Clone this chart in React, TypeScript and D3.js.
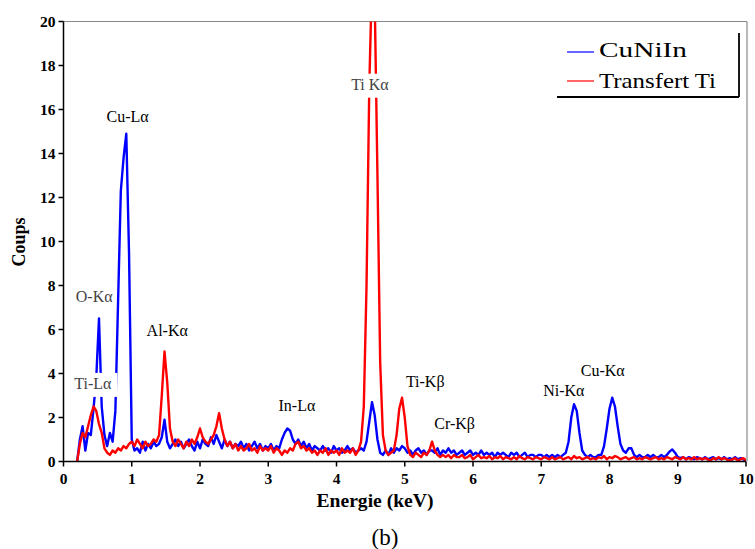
import React from "react";
import * as d3 from "d3";

// Energy grid: starts at 0.20 keV, step 0.04 keV
const E_START = 0.2;
const E_STEP = 0.04;

// CuNiIn counts (one row = 10 points = 0.4 keV)
const cuNiIn: number[] = [
  0.0, 1.0, 1.6, 0.5, 1.3, 1.2, 2.4, 3.8, 6.5, 2.5,
  1.2, 0.7, 1.3, 0.9, 2.3, 7.3, 12.3, 13.8, 14.9, 9.5,
  1.0, 0.5, 0.6, 0.4, 0.9, 0.5, 0.8, 0.6, 0.9, 0.7,
  0.8, 1.1, 1.9, 0.9, 0.6, 0.8, 1.0, 0.7, 0.9, 0.6,
  0.8, 1.0, 0.7, 0.5, 0.9, 0.6, 1.0, 0.8, 0.7, 1.1,
  0.8, 1.2, 0.9, 0.6, 1.0, 0.7, 0.9, 0.6, 0.8, 0.7,
  0.9, 0.6, 0.8, 0.5, 0.7, 0.9, 0.6, 0.8, 0.5, 0.7,
  0.6, 0.8, 0.5, 0.7, 0.6, 1.0, 1.3, 1.5, 1.4, 1.0,
  0.8, 1.0, 0.7, 0.9, 0.6, 0.8, 0.5, 0.7, 0.6, 0.5,
  0.7, 0.5, 0.6, 0.4, 0.7, 0.5, 0.6, 0.4, 0.5, 0.7,
  0.5, 0.6, 0.4, 0.5, 0.6, 0.5, 0.9, 1.8, 2.7, 2.1,
  1.0, 0.4, 0.3, 0.5, 0.3, 0.6, 0.4, 0.6, 0.5, 0.7,
  0.6, 0.4, 0.5, 0.3, 0.5, 0.6, 0.4, 0.5, 0.3, 0.5,
  0.5, 0.4, 0.6, 0.3, 0.5, 0.4, 0.6, 0.4, 0.5, 0.3,
  0.4, 0.5, 0.3, 0.4, 0.5, 0.3, 0.4, 0.3, 0.5, 0.3,
  0.4, 0.3, 0.4, 0.2, 0.4, 0.3, 0.4, 0.3, 0.2, 0.4,
  0.3, 0.4, 0.2, 0.3, 0.4, 0.2, 0.3, 0.3, 0.2, 0.3,
  0.3, 0.2, 0.3, 0.2, 0.3, 0.2, 0.3, 0.2, 0.3, 0.4,
  0.9, 2.0, 2.6, 2.3, 1.3, 0.5, 0.3, 0.2, 0.3, 0.2,
  0.2, 0.3, 0.3, 0.7, 1.5, 2.4, 2.9, 2.5, 1.6, 0.8,
  0.5, 0.4, 0.6, 0.6, 0.3, 0.2, 0.3, 0.2, 0.2, 0.3,
  0.2, 0.3, 0.2, 0.2, 0.3, 0.2, 0.3, 0.45, 0.55, 0.4,
  0.2, 0.15, 0.2, 0.1, 0.2, 0.15, 0.1, 0.2, 0.15, 0.1,
  0.2, 0.1, 0.15, 0.2, 0.1, 0.15, 0.1, 0.2, 0.1, 0.15,
  0.1, 0.2, 0.1, 0.15, 0.1, 0.05,
];

// Transfert Ti counts
const transfertTi: number[] = [
  0.0, 0.8, 1.3, 1.1, 1.6, 2.1, 2.5, 2.3, 1.7, 1.3,
  0.6, 0.4, 0.3, 0.5, 0.4, 0.6, 0.5, 0.7, 0.6, 0.8,
  0.9, 0.7, 1.0, 0.8, 0.6, 0.9, 0.7, 0.8, 1.0, 0.9,
  1.2, 3.0, 5.0, 3.6, 1.5, 0.9, 0.7, 1.0, 0.8, 0.6,
  0.9, 0.7, 1.0, 0.8, 1.1, 1.5, 1.1, 0.9, 0.8, 1.0,
  1.2, 1.6, 2.2, 1.5, 1.0, 0.7, 0.9, 0.6, 0.8, 0.5,
  0.7, 0.5, 0.6, 0.8, 0.5, 0.6, 0.4, 0.7, 0.5, 0.6,
  0.5, 0.7, 0.4, 0.6, 0.5, 0.3, 0.5, 0.4, 0.6, 0.5,
  0.8, 0.9, 0.6, 0.7, 0.5, 0.6, 0.4, 0.5, 0.3, 0.5,
  0.4, 0.6, 0.3, 0.5, 0.4, 0.5, 0.3, 0.6, 0.4, 0.5,
  0.4, 0.6, 0.3, 0.5, 0.9, 2.5, 8.0, 17, 22, 21,
  13, 4.5, 1.2, 0.5, 0.3, 0.4, 0.5, 1.2, 2.4, 2.9,
  2.0, 0.7, 0.3, 0.2, 0.4, 0.3, 0.2, 0.4, 0.3, 0.5,
  0.9, 0.5, 0.3, 0.2, 0.3, 0.2, 0.3, 0.15, 0.3, 0.2,
  0.2, 0.3, 0.15, 0.2, 0.3, 0.1, 0.2, 0.3, 0.15, 0.2,
  0.15, 0.25, 0.1, 0.2, 0.15, 0.25, 0.1, 0.2, 0.15, 0.1,
  0.2, 0.1, 0.25, 0.15, 0.1, 0.2, 0.15, 0.1, 0.2, 0.15,
  0.1, 0.2, 0.15, 0.1, 0.2, 0.1, 0.15, 0.2, 0.1, 0.15,
  0.2, 0.1, 0.25, 0.15, 0.2, 0.1, 0.15, 0.2, 0.1, 0.15,
  0.1, 0.2, 0.15, 0.25, 0.1, 0.2, 0.15, 0.25, 0.2, 0.1,
  0.15, 0.2, 0.1, 0.15, 0.2, 0.1, 0.15, 0.1, 0.2, 0.15,
  0.1, 0.15, 0.2, 0.1, 0.15, 0.1, 0.2, 0.15, 0.1, 0.2,
  0.15, 0.1, 0.2, 0.1, 0.15, 0.1, 0.2, 0.1, 0.15, 0.1,
  0.15, 0.1, 0.05, 0.15, 0.1, 0.2, 0.1, 0.15, 0.1, 0.05,
  0.1, 0.15, 0.05, 0.1, 0.15, 0.05,
];

const xTicks = [0, 1, 2, 3, 4, 5, 6, 7, 8, 9, 10];
const yTicks = [0, 2, 4, 6, 8, 10, 12, 14, 16, 18, 20];

const seriesNames = ["CuNiIn", "Transfert Ti"];
const seriesColors = ["#0000ff", "#ff0000"];

// peak annotations: label, energy (keV), counts (anchor), boxed
const peakLabels: { text: string; e: number; c: number; boxed: boolean }[] = [
  { text: "Cu-Lα", e: 0.94, c: 15.45, boxed: false },
  { text: "O-Kα", e: 0.45, c: 7.25, boxed: true },
  { text: "Ti-Lα", e: 0.43, c: 3.3, boxed: true },
  { text: "Al-Kα", e: 1.52, c: 5.7, boxed: false },
  { text: "In-Lα", e: 3.42, c: 2.3, boxed: false },
  { text: "Ti Kα", e: 4.49, c: 16.9, boxed: true },
  { text: "Ti-Kβ", e: 5.3, c: 3.4, boxed: false },
  { text: "Cr-Kβ", e: 5.73, c: 1.5, boxed: false },
  { text: "Ni-Kα", e: 7.33, c: 3.0, boxed: false },
  { text: "Cu-Kα", e: 7.9, c: 3.9, boxed: false },
];

const W = 755;
const H = 549;
const X0 = 63.5;
const X1 = 746;
const Y0 = 461.5;
const Y1 = 21.5;

const FONT = "Liberation Serif, Times New Roman, serif";

export default function App() {
  const x = d3.scaleLinear().domain([0, 10]).range([X0, X1]);
  const y = d3.scaleLinear().domain([0, 20]).range([Y0, Y1]);
  const line = d3
    .line<number>()
    .x((_, i) => x(E_START + E_STEP * i))
    .y((d) => y(d));

  const ts = { fontFamily: FONT };

  return (
    <svg
      width={W}
      height={H}
      style={{ position: "absolute", left: 0, top: 0, background: "#fff", fontFamily: FONT }}
    >
      <defs>
        <clipPath id="plot">
          <rect x={X0} y={Y1} width={X1 - X0} height={Y0 - Y1} />
        </clipPath>
      </defs>
      <rect x={0} y={0} width={W} height={H} fill="#fff" />

      {/* frame top/right */}
      <line x1={X0} x2={X1 + 1} y1={Y1} y2={Y1} stroke="#888" strokeWidth={1.2} />
      <line x1={X1 + 1} x2={X1 + 1} y1={Y1} y2={Y0} stroke="#888" strokeWidth={1.2} />

      {/* series */}
      <g clipPath="url(#plot)">
        <path d={line(cuNiIn) || ""} fill="none" stroke={seriesColors[0]} strokeWidth={2.4} strokeLinejoin="round" />
        <path d={line(transfertTi) || ""} fill="none" stroke={seriesColors[1]} strokeWidth={2.4} strokeLinejoin="round" />
      </g>

      {/* peak labels */}
      {peakLabels.map((p) => {
        const px = x(p.e);
        const py = y(p.c);
        const w = p.text.length * 8.6;
        return (
          <g key={p.text}>
            {p.boxed && (
              <rect x={px - w / 2 - 3} y={py - 16} width={w + 6} height={24} fill="#fff" />
            )}
            <text
              x={px}
              y={py}
              textAnchor="middle"
              fontSize={16}
              style={ts}
              fill={p.boxed ? "#444" : "#000"}
            >
              {p.text}
            </text>
          </g>
        );
      })}

      {/* axes */}
      <line x1={X0} x2={X0} y1={Y1} y2={Y0 + 0.75} stroke="#000" strokeWidth={1.5} />
      <line x1={X0} x2={X1} y1={Y0} y2={Y0} stroke="#000" strokeWidth={1.5} />
      {yTicks.map((t) => (
        <g key={"y" + t}>
          <line x1={X0 - 5} x2={X0} y1={y(t)} y2={y(t)} stroke="#000" strokeWidth={1.5} />
          <text x={X0 - 8} y={y(t)} dy="0.35em" textAnchor="end" fontSize={15.5} fontWeight="bold" style={ts}>
            {t}
          </text>
        </g>
      ))}
      {xTicks.map((t) => (
        <g key={"x" + t}>
          <line x1={x(t)} x2={x(t)} y1={Y0} y2={Y0 + 5} stroke="#000" strokeWidth={1.5} />
          <text x={x(t)} y={Y0 + 22} textAnchor="middle" fontSize={15.5} fontWeight="bold" style={ts}>
            {t}
          </text>
        </g>
      ))}

      {/* axis titles */}
      <text
        transform={`translate(25,242) rotate(-90)`}
        textAnchor="middle"
        fontSize={18}
        fontWeight="bold"
        style={ts}
      >
        Coups
      </text>
      <text x={375} y={507} textAnchor="middle" fontSize={19} fontWeight="bold" style={ts} textLength={117} lengthAdjust="spacingAndGlyphs">
        Energie (keV)
      </text>
      <text x={385} y={545} textAnchor="middle" fontSize={23} style={ts}>
        (b)
      </text>

      {/* legend */}
      <line x1={739} x2={739} y1={33} y2={97} stroke="#000" strokeWidth={1.8} />
      <line x1={557} x2={739} y1={97} y2={97} stroke="#000" strokeWidth={1.8} />
      {seriesNames.map((n, i) => (
        <g key={n}>
          <line x1={567} x2={594} y1={52 + i * 29} y2={52 + i * 29} stroke={seriesColors[i]} strokeWidth={1.2} />
          <text
            x={599}
            y={57 + i * 31}
            fontSize={21}
            style={ts}
            textLength={i === 0 ? 88 : 117}
            lengthAdjust="spacingAndGlyphs"
          >
            {n}
          </text>
        </g>
      ))}
    </svg>
  );
}
